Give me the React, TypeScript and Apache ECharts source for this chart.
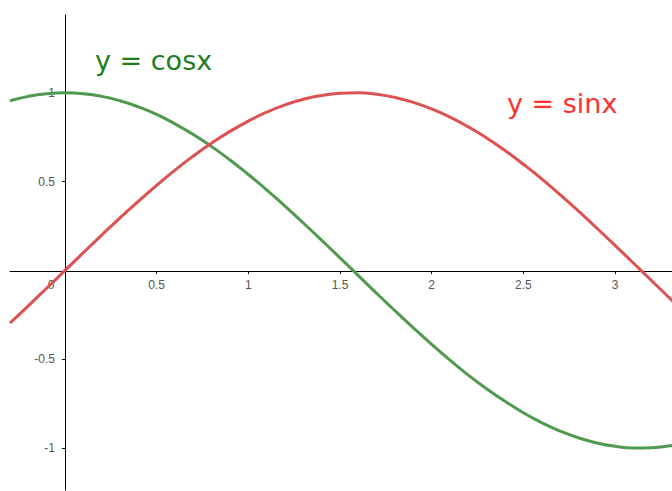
import React, { useEffect, useRef } from "react";
import * as echarts from "echarts";

const xValues = [-0.3, -0.2, -0.1, 0, 0.1, 0.2, 0.3, 0.4, 0.5, 0.6, 0.7, 0.8, 0.9, 1.0, 1.1, 1.2, 1.3, 1.4, 1.5, 1.6, 1.7, 1.8, 1.9, 2.0, 2.1, 2.2, 2.3, 2.4, 2.5, 2.6, 2.7, 2.8, 2.9, 3.0, 3.1, 3.2, 3.3, 3.4];
const cosValues = [0.955, 0.98, 0.995, 1, 0.995, 0.98, 0.955, 0.921, 0.878, 0.825, 0.765, 0.697, 0.622, 0.54, 0.454, 0.362, 0.267, 0.17, 0.071, -0.029, -0.129, -0.227, -0.323, -0.416, -0.505, -0.589, -0.666, -0.737, -0.801, -0.857, -0.904, -0.942, -0.971, -0.99, -0.999, -0.998, -0.987, -0.967];
const sinValues = [-0.296, -0.199, -0.1, 0, 0.1, 0.199, 0.296, 0.389, 0.479, 0.565, 0.644, 0.717, 0.783, 0.841, 0.891, 0.932, 0.964, 0.985, 0.997, 1.0, 0.992, 0.974, 0.946, 0.909, 0.863, 0.808, 0.746, 0.675, 0.598, 0.516, 0.427, 0.335, 0.239, 0.141, 0.042, -0.058, -0.158, -0.256];
const xTicks = [0, 0.5, 1, 1.5, 2, 2.5, 3];
const yTicks = [-1, -0.5, 0.5, 1];
const cosLabel = "y = cosx";
const sinLabel = "y = sinx";

export default function App() {
  const ref = useRef<HTMLDivElement>(null);
  useEffect(() => {
    if (!ref.current) return;
    const chart = echarts.init(ref.current, null, { renderer: "svg" });
    const tickLabel = { color: "#555", fontSize: 12, fontFamily: "Liberation Sans, Arial, sans-serif" };
    chart.setOption({
      animation: false,
      backgroundColor: "#fff",
      grid: { left: 10, right: 0, top: 15, bottom: 1, containLabel: false, outerBoundsMode: "none" },
      xAxis: {
        type: "value",
        min: -0.3,
        max: 3.311,
        position: "bottom",
        offset: -219,
        axisLine: { onZero: false, lineStyle: { color: "#000", width: 1 } },
        axisTick: { show: true, length: 3, inside: false, customValues: xTicks, lineStyle: { color: "#000" } },
        axisLabel: {
          ...tickLabel,
          margin: 8,
          customValues: xTicks,
          formatter: (v: number) => (v === 0 ? "{z|0}" : String(v)),
          rich: { z: { ...tickLabel, padding: [0, 28, 0, 0] } },
        },
        splitLine: { show: false },
      },
      yAxis: {
        type: "value",
        min: -1.236,
        max: 1.438,
        position: "left",
        offset: -55,
        axisLine: { onZero: false, lineStyle: { color: "#000", width: 1 } },
        axisTick: { show: true, length: 3, inside: false, customValues: yTicks, lineStyle: { color: "#000" } },
        axisLabel: { ...tickLabel, margin: 10, customValues: yTicks, formatter: (v: number) => String(v) },
        splitLine: { show: false },
      },
      series: [
        {
          type: "line",
          name: "cos",
          data: xValues.map((x, i) => [x, cosValues[i]]),
          smooth: true,
          showSymbol: false,
          clip: true,
          lineStyle: { color: "#4f9a4f", width: 3 },
        },
        {
          type: "line",
          name: "sin",
          data: xValues.map((x, i) => [x, sinValues[i]]),
          smooth: true,
          showSymbol: false,
          clip: true,
          lineStyle: { color: "#dc5151", width: 3 },
        },
      ],
      graphic: [
        {
          type: "text",
          left: 95,
          top: 47,
          style: { text: cosLabel, fill: "#1e7d1e", fontSize: 27, fontFamily: "DejaVu Sans, sans-serif" },
        },
        {
          type: "text",
          left: 507,
          top: 90,
          style: { text: sinLabel, fill: "#ff3030", fontSize: 27, fontFamily: "DejaVu Sans, sans-serif" },
        },
      ],
    });
    return () => chart.dispose();
  }, []);
  return (
    <div
      ref={ref}
      style={{ position: "fixed", left: 0, top: 0, width: 672, height: 491 }}
    />
  );
}
